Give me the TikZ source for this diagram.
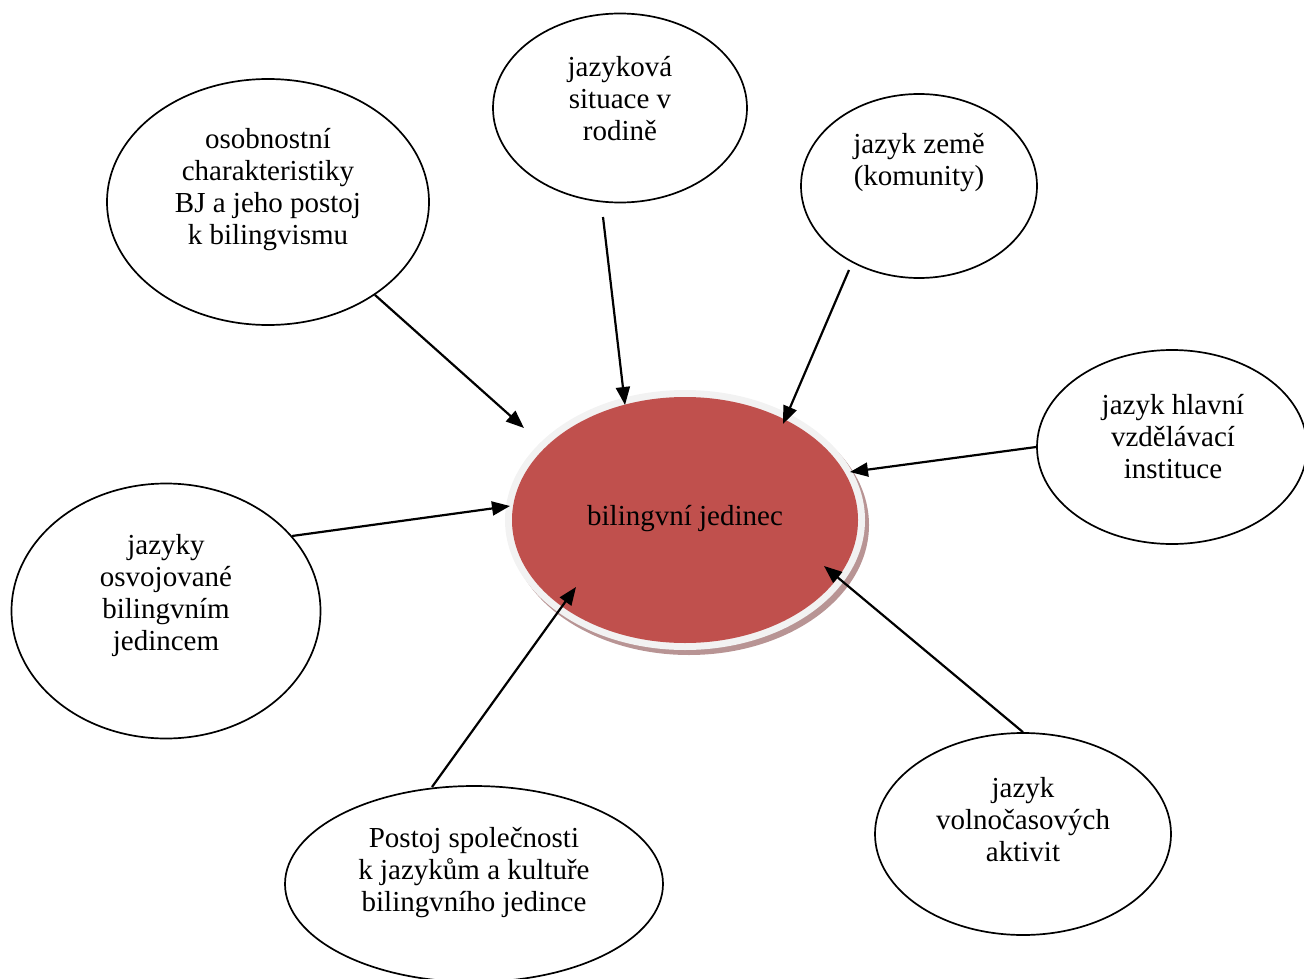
\documentclass[tikz,border=0pt]{standalone}
\usepackage{fontspec}
\setmainfont{Liberation Serif}
\usetikzlibrary{arrows.meta,shapes.geometric}
\definecolor{redfill}{HTML}{C0504D}
\definecolor{ringfill}{HTML}{F2F2F2}
\definecolor{shadowc}{HTML}{B89494}
\tikzset{
  bubble/.style={draw=black,line width=1.7pt,ellipse,inner sep=0pt},
  lbl/.style={align=center,font=\fontsize{29}{32}\selectfont,inner sep=0pt},
  arr/.style={line width=2.2pt,-{Triangle[length=18pt,width=14pt]}}
}
\begin{document}
\begin{tikzpicture}[x=1pt,y=-1pt]
\useasboundingbox (0,0) rectangle (1304,979);
% central
\fill[shadowc] (689,525) ellipse[x radius=180,y radius=130];
\fill[ringfill] (685,520) ellipse[x radius=180,y radius=130];
\node[ellipse,fill=redfill,minimum width=346pt,minimum height=246pt,inner sep=0pt] (c) at (685,520) {};
\node[lbl] (ct) at (685,519) {bilingvní jedinec};
% outer bubbles
\node[bubble,minimum width=322pt,minimum height=246pt] (e1) at (268,202) {};
\node[bubble,minimum width=254pt,minimum height=189pt] (e2) at (620,108) {};
\node[bubble,minimum width=236pt,minimum height=184pt] (e3) at (919,186) {};
\node[bubble,minimum width=270pt,minimum height=194pt] (e4) at (1172,447) {};
\node[bubble,minimum width=309pt,minimum height=255pt] (e5) at (166,611) {};
\node[bubble,minimum width=378pt,minimum height=196pt] (e6) at (474,884) {};
\node[bubble,minimum width=296pt,minimum height=202pt] (e7) at (1023,834) {};
% texts
\node[lbl] (t1) at (268,190) {osobnostní\\charakteristiky\\BJ a jeho postoj\\k bilingvismu};
\node[lbl] (t2) at (620,99) {jazyková\\situace v\\rodině};
\node[lbl] (t3) at (919,163) {jazyk země\\(komunity)};
\node[lbl] (t4) at (1173,437) {jazyk hlavní\\vzdělávací\\instituce};
\node[lbl] (t5) at (166,596) {jazyky\\osvojované\\bilingvním\\jedincem};
\node[lbl] (t6) at (474,873) {Postoj společnosti\\k jazykům a kultuře\\bilingvního jedince};
\node[lbl] (t7) at (1023,820) {jazyk\\volnočasových\\aktivit};
% arrow points
\coordinate (s2) at (603,217);
\coordinate (s3) at (849,270);
\coordinate (s5) at (292,536);
\coordinate (s6) at (432,787);
\coordinate (a1) at (524,428);
\coordinate (a2) at (625,405);
\coordinate (a3) at (783,424);
\coordinate (a4) at (850,472);
\coordinate (a5) at (510,506);
\coordinate (a6) at (576,587);
\coordinate (a7) at (824,566);
\draw[arr] (e1.-41) -- (a1);
\draw[arr] (s2) -- (a2);
\draw[arr] (s3) -- (a3);
\draw[arr] (e4.west) -- (a4);
\draw[arr] (s5) -- (a5);
\draw[arr] (s6) -- (a6);
\draw[arr] (e7.north) -- (a7);
\end{tikzpicture}
\end{document}
